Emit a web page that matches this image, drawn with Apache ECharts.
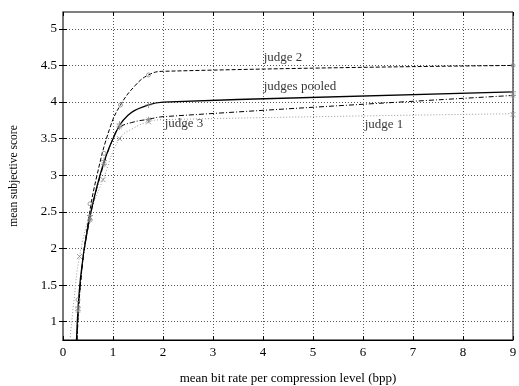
<!DOCTYPE html>
<html>
<head>
<meta charset="utf-8">
<script src="https://cdn.jsdelivr.net/npm/echarts@6/dist/echarts.min.js"></script>
<style>html,body{margin:0;padding:0;background:#fff}#c{width:519px;height:386px}</style>
</head>
<body>
<div id="c"></div>
<script>
// ---- data ----
var xTicks = [0, 1, 2, 3, 4, 5, 6, 7, 8, 9];
var yTicks = [1, 1.5, 2, 2.5, 3, 3.5, 4, 4.5, 5];

// fitted curves (x = bpp, y = mean score)
var pooledCurve = [[0.27,0.75],[0.35,1.6],[0.5,2.3],[0.74,3.0],[1.0,3.5],[1.3,3.82],[1.71,3.96],[2.0,4.0],[9.0,4.14]];
var judge2Curve = [[0.28,0.75],[0.36,1.6],[0.5,2.35],[0.68,3.0],[0.94,3.65],[1.15,3.96],[1.45,4.23],[1.71,4.37],[2.0,4.42],[9.0,4.5]];
var judge3Curve = [[0.28,0.75],[0.36,1.6],[0.52,2.35],[0.75,3.0],[1.0,3.5],[1.13,3.65],[1.4,3.725],[1.71,3.765],[2.0,3.8],[9.0,4.09]];
var judge1Curve = [[0.14,0.75],[0.22,1.3],[0.33,1.89],[0.55,2.5],[0.8,2.94],[1.13,3.5],[1.4,3.64],[1.71,3.73],[2.0,3.76],[9.0,3.84]];

// measured points
var pooledPts = [[0.3,1.2],[0.54,2.45],[0.82,3.2],[1.13,3.7],[1.71,3.96],[9.0,4.14]];
var judge2Pts = [[0.3,1.3],[0.54,2.61],[0.82,3.3],[1.15,3.96],[1.71,4.37],[9.0,4.5]];
var judge3Pts = [[0.3,1.15],[0.54,2.39],[0.82,3.15],[1.13,3.66],[1.71,3.76],[9.0,4.09]];
var judge1Pts = [[0.33,1.89],[0.54,2.42],[0.8,2.94],[1.13,3.5],[1.71,3.73],[9.0,3.83]];

var curveLabels = ['judge 2', 'judges pooled', 'judge 3', 'judge 1'];
var xName = 'mean bit rate per compression level (bpp)';
var yName = 'mean subjective score';

var font = 'Liberation Serif';
var chart = echarts.init(document.getElementById('c'), null, {renderer: 'canvas'});

function lineSeries(data, color, width, dash) {
  return {type: 'line', data: data, smooth: 0.45, symbol: 'none', z: 3,
    lineStyle: {color: color, width: width, type: dash}, silent: true};
}
function ptSeries(data, symbol, size) {
  return {type: 'scatter', data: data, symbol: symbol, symbolSize: size, z: 4, silent: true,
    itemStyle: {color: 'rgba(0,0,0,0)', borderColor: '#888', borderWidth: 1}};
}

var crossPath = 'path://M0,0L10,10M10,0L0,10';
var plusPath = 'path://M5,0L5,10M0,5L10,5';
var starPath = 'path://M5,0L5,10M0,5L10,5M1.5,1.5L8.5,8.5M8.5,1.5L1.5,8.5';

// label anchor points, in data units
var labelPos = [[4.40,4.61],[4.74,4.21],[2.42,3.70],[6.42,3.69]];

chart.setOption({
  animation: false,
  grid: {left: 63, right: 6, top: 12, bottom: 46, show: true, borderColor: '#000', borderWidth: 1,
    outerBoundsMode: 'none', containLabel: false},
  xAxis: [{
    type: 'value', min: 0, max: 9, interval: 1,
    name: xName, nameLocation: 'middle', nameGap: 32,
    nameTextStyle: {fontFamily: font, fontSize: 13, color: '#000'},
    axisLine: {show: true, lineStyle: {color: '#000', width: 1}},
    axisTick: {show: true, inside: true, length: 4, lineStyle: {color: '#000'}},
    axisLabel: {fontFamily: font, fontSize: 13, color: '#000', margin: 6},
    splitLine: {show: true, lineStyle: {color: '#555', type: [1, 2], width: 1}}
  }, {
    type: 'value', min: 0, max: 9, interval: 1, position: 'top',
    axisLine: {show: false}, axisTick: {show: true, inside: true, length: 4, lineStyle: {color: '#000'}},
    axisLabel: {show: false}, splitLine: {show: false}
  }],
  yAxis: [{
    type: 'value', min: 0.75, max: 5.23,
    name: yName, nameLocation: 'middle', nameGap: 43,
    nameTextStyle: {fontFamily: font, fontSize: 11.5, color: '#000'},
    axisLine: {show: true, lineStyle: {color: '#777', width: 2}},
    axisTick: {show: true, inside: true, length: 4, customValues: yTicks, lineStyle: {color: '#000'}},
    axisLabel: {fontFamily: font, fontSize: 13, color: '#000', margin: 6, customValues: yTicks},
    splitLine: {show: true, lineStyle: {color: '#555', type: [1, 2], width: 1}}
  }, {
    type: 'value', min: 0.75, max: 5.23, position: 'right',
    axisLine: {show: false},
    axisTick: {show: true, inside: true, length: 4, customValues: yTicks, lineStyle: {color: '#000'}},
    axisLabel: {show: false, customValues: yTicks}, splitLine: {show: false}
  }],
  series: [
    lineSeries(judge1Curve, '#999', 1, [1, 2]),
    lineSeries(judge3Curve, '#000', 1, [5, 2, 1, 2]),
    lineSeries(judge2Curve, '#000', 1, [4, 2]),
    lineSeries(pooledCurve, '#000', 1.3, 'solid'),
    ptSeries(judge1Pts, crossPath, 5),
    ptSeries(judge3Pts, starPath, 6),
    ptSeries(judge2Pts, 'circle', 4),
    ptSeries(pooledPts, plusPath, 6),
    {type: 'scatter', symbolSize: 0, silent: true, z: 5,
      data: labelPos.map(function (p, i) { return {value: p, name: curveLabels[i]}; }),
      label: {show: true, position: 'inside', formatter: '{b}', fontFamily: font, fontSize: 13, color: '#000'}}
  ]
});
</script>
</body>
</html>
